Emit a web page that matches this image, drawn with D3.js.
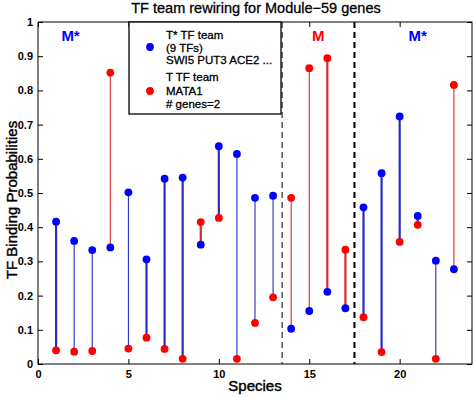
<!DOCTYPE html>
<html>
<head>
<meta charset="utf-8">
<script src="https://cdn.jsdelivr.net/npm/d3@7"></script>
<style>
  html, body { margin: 0; padding: 0; background: #fff; }
  svg { display: block; font-family: "Liberation Sans", Arial, Helvetica, sans-serif; }
</style>
</head>
<body>
<svg id="chart" width="473" height="397"></svg>
<script>
// ---- data ----
const species = d3.range(1, 24);
const tStarValues = [0.416, 0.360, 0.333, 0.341, 0.502, 0.306, 0.542, 0.545, 0.349, 0.637,
                     0.614, 0.486, 0.492, 0.103, 0.155, 0.211, 0.163, 0.458, 0.558, 0.724,
                     0.433, 0.302, 0.277];
const tValues     = [0.040, 0.036, 0.038, 0.852, 0.045, 0.077, 0.044, 0.015, 0.415, 0.427,
                     0.015, 0.120, 0.195, 0.486, 0.865, 0.894, 0.334, 0.137, 0.035, 0.357,
                     0.407, 0.015, 0.816];
const strongStem  = [true, false, false, false, false, true, true, true, true, true,
                     false, false, false, false, false, true, true, true, true, true,
                     true, false, false];
const yTicks = [0, 0.1, 0.2, 0.3, 0.4, 0.5, 0.6, 0.7, 0.8, 0.9, 1];
const xTicks = [0, 5, 10, 15, 20];
const boundaries = [13.5, 17.5];
const regionNames = ["M*", "M", "M*"];
const regionCentres = [1.8, 15.5, 21];
const regionKinds = ["Tstar", "T", "Tstar"];
const legendTStar = ["T* TF team", "(9 TFs)", "SWI5 PUT3 ACE2 ..."];
const legendT = ["T TF team", "MATA1", "# genes=2"];
const title = "TF team rewiring for Module\u221259 genes";

(function () {
// ---- layout ----
const svg = d3.select("#chart");
const pL = 38, pR = 472, pT = 22, pB = 364;
const x = d3.scaleLinear().domain([0, 24]).range([pL, pR]);
const y = d3.scaleLinear().domain([0, 1]).range([pB, pT]);
const colour = { Tstar: "#0000ff", T: "#ff0000" };
const stemColour = { Tstar: "#2a2ac8", T: "#d42a2a" };

const rows = species.map((s, i) => ({
  s, ts: tStarValues[i], t: tValues[i], strong: strongStem[i]
}));

// axes (ticks inside, MATLAB style)
const fmt = d => (d === 0 || d === 1) ? String(d) : d3.format(".1f")(d);
const axL = svg.append("g").attr("transform", `translate(${pL},0)`)
  .call(d3.axisLeft(y).tickValues(yTicks).tickFormat(fmt).tickSizeInner(-5).tickSizeOuter(0).tickPadding(5));
const axR = svg.append("g").attr("transform", `translate(${pR},0)`)
  .call(d3.axisRight(y).tickValues(yTicks).tickFormat("").tickSizeInner(-5).tickSizeOuter(0));
const axB = svg.append("g").attr("transform", `translate(0,${pB})`)
  .call(d3.axisBottom(x).tickValues(xTicks).tickSizeInner(-5).tickSizeOuter(0).tickPadding(6));
const axT = svg.append("g").attr("transform", `translate(0,${pT})`)
  .call(d3.axisTop(x).tickValues(xTicks).tickFormat("").tickSizeInner(-5).tickSizeOuter(0));
[axL, axR, axB, axT].forEach(a => {
  a.select(".domain").remove();
  a.selectAll("line").attr("stroke", "#000").attr("stroke-width", 1);
  a.selectAll("text").attr("font-family", "Liberation Sans, Arial, sans-serif")
    .attr("font-size", 11).attr("font-weight", "bold").attr("fill", "#000");
});

// frame
svg.append("rect").attr("x", pL).attr("y", pT)
  .attr("width", pR - pL).attr("height", pB - pT)
  .attr("fill", "none").attr("stroke", "#000").attr("stroke-width", 1);

// region boundaries
svg.append("g").selectAll("line").data(boundaries).join("line")
  .attr("x1", d => x(d)).attr("x2", d => x(d))
  .attr("y1", pT).attr("y2", pB)
  .attr("stroke", "#000")
  .attr("stroke-width", (d, i) => i === 0 ? 1 : 2)
  .attr("stroke-dasharray", "6,4");

// region names
svg.append("g").selectAll("text").data(regionNames).join("text")
  .attr("x", (d, i) => x(regionCentres[i])).attr("y", 41)
  .attr("text-anchor", "middle").attr("font-size", 15).attr("font-weight", "bold")
  .attr("fill", (d, i) => colour[regionKinds[i]])
  .text(d => d);

// stems
svg.append("g").selectAll("line").data(rows).join("line")
  .attr("x1", d => x(d.s)).attr("x2", d => x(d.s))
  .attr("y1", d => y(d.ts)).attr("y2", d => y(d.t))
  .attr("stroke", d => d.ts >= d.t ? stemColour.Tstar : stemColour.T)
  .attr("stroke-width", d => d.strong ? 2.2 : 1.1);

// markers
svg.append("g").selectAll("circle").data(rows).join("circle")
  .attr("cx", d => x(d.s)).attr("cy", d => y(d.t)).attr("r", 3.9)
  .attr("fill", colour.T);
svg.append("g").selectAll("circle").data(rows).join("circle")
  .attr("cx", d => x(d.s)).attr("cy", d => y(d.ts)).attr("r", 3.9)
  .attr("fill", colour.Tstar);

// legend
const lg = svg.append("g");
lg.append("rect").attr("x", 129).attr("y", 22).attr("width", 152).attr("height", 92)
  .attr("fill", "#fff").attr("stroke", "#000").attr("stroke-width", 1.3);
const lines = legendTStar.concat(legendT);
const baselines = [39, 51.7, 64.4, 81, 94.7, 108.4];
lines.forEach((t, i) => {
  lg.append("text").attr("x", 166).attr("y", baselines[i])
    .attr("font-size", 11.5).attr("fill", "#000")
    .attr("stroke", "#000").attr("stroke-width", 0.3).text(t);
});
lg.append("circle").attr("cx", 150).attr("cy", 47).attr("r", 3.9).attr("fill", colour.Tstar);
lg.append("circle").attr("cx", 150).attr("cy", 91).attr("r", 3.9).attr("fill", colour.T);

// titles
svg.append("text").attr("x", 256).attr("y", 13).attr("text-anchor", "middle")
  .attr("font-size", 14.5).attr("fill", "#000")
  .attr("stroke", "#000").attr("stroke-width", 0.3).text(title);
svg.append("text").attr("x", 255).attr("y", 391).attr("text-anchor", "middle")
  .attr("font-size", 15).attr("fill", "#000")
  .attr("stroke", "#000").attr("stroke-width", 0.4).text("Species");
svg.append("text").attr("transform", "translate(17,200) rotate(-90)")
  .attr("text-anchor", "middle").attr("font-size", 15).attr("fill", "#000")
  .attr("stroke", "#000").attr("stroke-width", 0.4)
  .text("TF Binding Probabilities");
})();
</script>
</body>
</html>
